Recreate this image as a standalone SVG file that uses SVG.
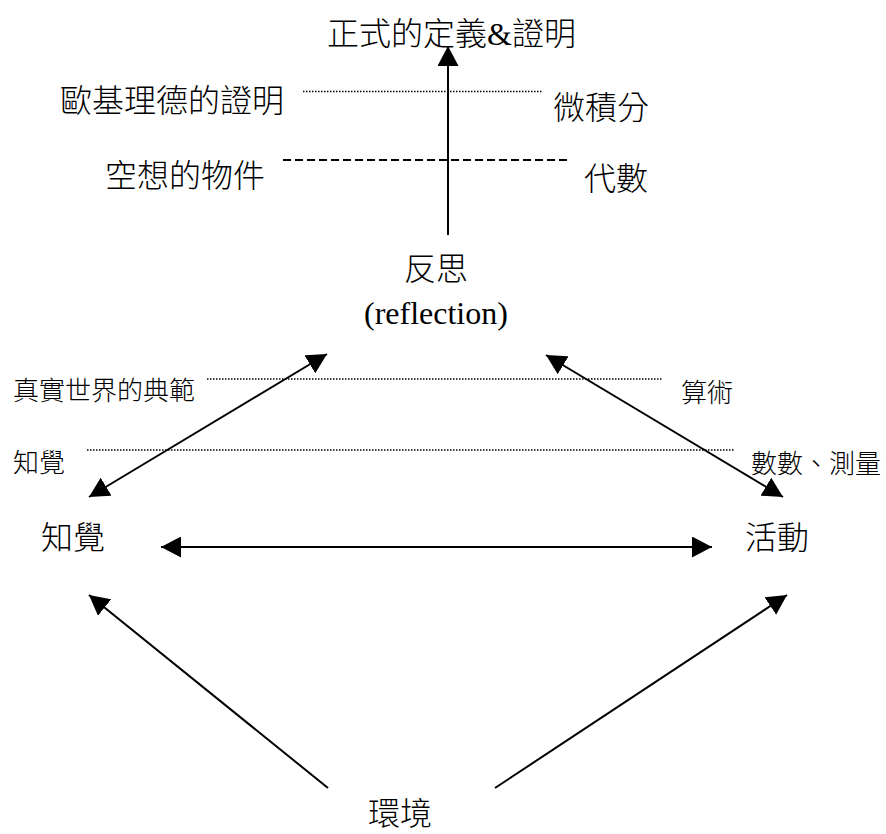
<svg xmlns="http://www.w3.org/2000/svg" width="886" height="834" viewBox="0 0 886 834">
<style>
text{font-family:"Liberation Serif","Noto Sans CJK TC","Noto Sans CJK SC",serif;fill:#000;font-weight:300}
.big{font-size:32px}
.small{font-size:26px}
.arrow{stroke:#000;stroke-width:2;fill:none}
.dot{stroke:#000;stroke-width:1.5;stroke-dasharray:1.5 1.5;fill:none}
.dash{stroke:#000;stroke-width:2;stroke-dasharray:8 4;fill:none}
</style>
<defs>
<marker id="ah" markerUnits="userSpaceOnUse" markerWidth="20" markerHeight="21" refX="20" refY="10.5" orient="auto-start-reverse" viewBox="0 0 20 21">
<path d="M0,0 L20,10.5 L0,21 z" fill="#000"/>
</marker>
</defs>
<rect width="886" height="834" fill="#fff"/>
<g id="connectors">
<line class="arrow" x1="448" y1="235" x2="448" y2="46" marker-end="url(#ah)"/>
<line class="arrow" x1="89" y1="497" x2="327" y2="354" marker-start="url(#ah)" marker-end="url(#ah)"/>
<line class="arrow" x1="546" y1="355" x2="783" y2="497" marker-start="url(#ah)" marker-end="url(#ah)"/>
<line class="arrow" x1="161" y1="547" x2="712" y2="547" marker-start="url(#ah)" marker-end="url(#ah)"/>
<line class="arrow" x1="328" y1="788" x2="89" y2="595" marker-end="url(#ah)"/>
<line class="arrow" x1="495" y1="788" x2="787" y2="595" marker-end="url(#ah)"/>
</g>
<g id="levels">
<line class="dot" x1="303" y1="91.5" x2="542" y2="91.5"/>
<line class="dash" x1="283" y1="160" x2="570" y2="160"/>
<line class="dot" x1="207" y1="379" x2="662" y2="379"/>
<line class="dot" x1="87" y1="450" x2="734" y2="450"/>
</g>
<g id="formal"><text class="big" x="327" y="45">正式的定義&amp;證明</text></g>
<g id="euclid"><text class="big" x="60" y="112">歐基理德的證明</text></g>
<g id="calculus"><text class="big" x="553" y="119">微積分</text></g>
<g id="imaginary"><text class="big" x="105" y="187">空想的物件</text></g>
<g id="algebra"><text class="big" x="584" y="190">代數</text></g>
<g id="reflection"><text class="big" x="404" y="280">反思</text><text class="big" x="364" y="324">(reflection)</text></g>
<g id="prototypes"><text class="small" x="13" y="400">真實世界的典範</text></g>
<g id="arithmetic"><text class="small" x="681" y="402">算術</text></g>
<g id="perception-level"><text class="small" x="13" y="472">知覺</text></g>
<g id="counting"><text class="small" x="751" y="473">數數、測量</text></g>
<g id="perception"><text class="big" x="41" y="549">知覺</text></g>
<g id="action"><text class="big" x="745" y="549">活動</text></g>
<g id="environment"><text class="big" x="368" y="825">環境</text></g>
</svg>
